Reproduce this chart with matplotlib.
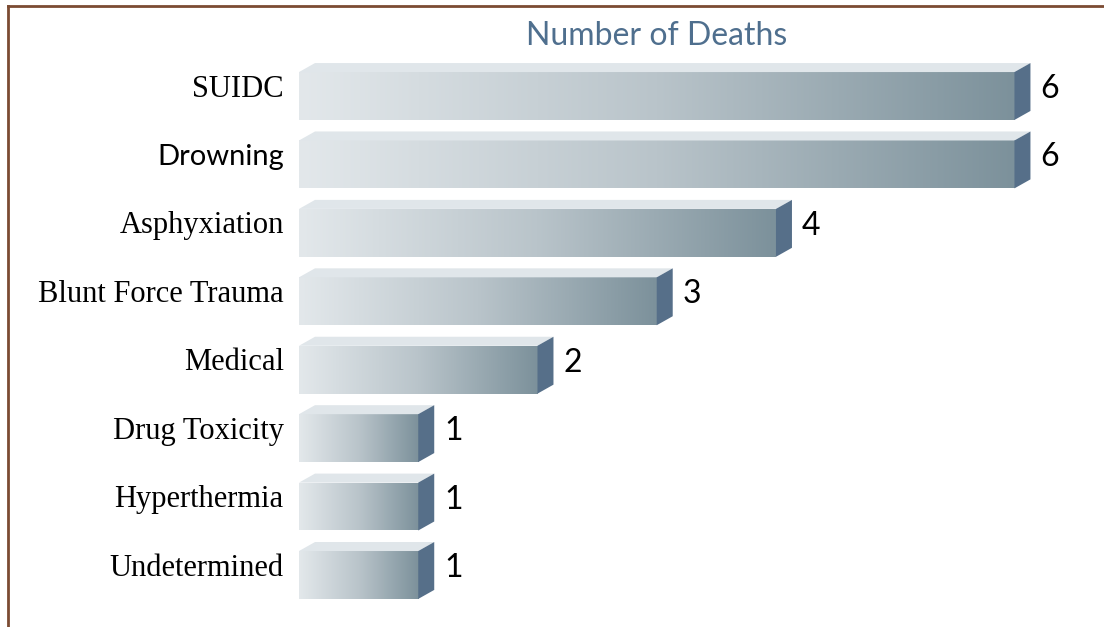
import matplotlib.pyplot as plt
import numpy as np
from matplotlib.colors import LinearSegmentedColormap
from matplotlib.patches import Polygon
from matplotlib.lines import Line2D

categories = ['SUIDC', 'Drowning', 'Asphyxiation', 'Blunt Force Trauma',
              'Medical', 'Drug Toxicity', 'Hyperthermia', 'Undetermined']
deaths = [6, 6, 4, 3, 2, 1, 1, 1]

fig = plt.figure(figsize=(11.04, 6.27), dpi=100)
ax = fig.add_axes([299 / 1104, 0.0175, 787 / 1104, 0.9276])
ax.set_xlim(0, 6.6)
ax.set_ylim(7.6, -0.9)

ypos = np.arange(len(categories))
h = 0.70
dx = 16 / 119.3   # depth offset in data units
dy = 9 / 68.4

bars = ax.barh(ypos, deaths, height=h, color='none', edgecolor='none')

cmap = LinearSegmentedColormap.from_list('bar', ['#e3e8eb', '#b9c4ca', '#7c919b'])
grad = np.linspace(0, 1, 256).reshape(1, -1)

for bar, v, name in zip(bars, deaths, categories):
    x0, y0 = bar.get_x(), bar.get_y()
    w, bh = bar.get_width(), bar.get_height()
    ytop, ybot = y0, y0 + bh
    yc = y0 + bh / 2
    im = ax.imshow(grad, cmap=cmap, aspect='auto', extent=(x0, x0 + w, ybot, ytop),
                   interpolation='bilinear', zorder=2)
    im.set_clip_path(bar)
    top = Polygon([(x0, ytop), (x0 + w, ytop), (x0 + w + dx, ytop - dy), (x0 + dx, ytop - dy)],
                  closed=True, facecolor='#e0e6ea', edgecolor='none', zorder=3)
    side = Polygon([(x0 + w, ytop), (x0 + w + dx, ytop - dy), (x0 + w + dx, ybot - dy), (x0 + w, ybot)],
                   closed=True, facecolor='#566f89', edgecolor='none', zorder=3)
    ax.add_patch(top)
    ax.add_patch(side)
    ax.annotate(str(v), xy=(x0 + w + dx, yc), xytext=(7, 5),
                textcoords='offset points', va='center', ha='left',
                fontsize=23, family='Lato', color='black')
    # category label, serif except Drowning
    if name == 'Drowning':
        fam, fs = 'Lato', 21
    else:
        fam, fs = 'Liberation Serif', 22
    ax.annotate(name, xy=(0, yc), xycoords=('axes fraction', 'data'),
                xytext=(-11, 5), textcoords='offset points', va='center', ha='right',
                fontsize=fs, family=fam, color='black')

ax.set_yticks([])
ax.set_xticks([])
for s in ax.spines.values():
    s.set_visible(False)
ax.patch.set_visible(False)

fig.text(657 / 1104, 1 - 36 / 627, 'Number of Deaths', ha='center', va='center',
         fontsize=23, family='Lato', color='#4f6f8e')

# brown frame on the top and left
fig.add_artist(Line2D([8 / 1104, 1], [1 - 6 / 627, 1 - 6 / 627], transform=fig.transFigure,
                      color='#7b4b32', lw=2))
fig.add_artist(Line2D([8 / 1104, 8 / 1104], [0, 1 - 6 / 627], transform=fig.transFigure,
                      color='#7b4b32', lw=2))

plt.savefig('out.png', dpi=100)
